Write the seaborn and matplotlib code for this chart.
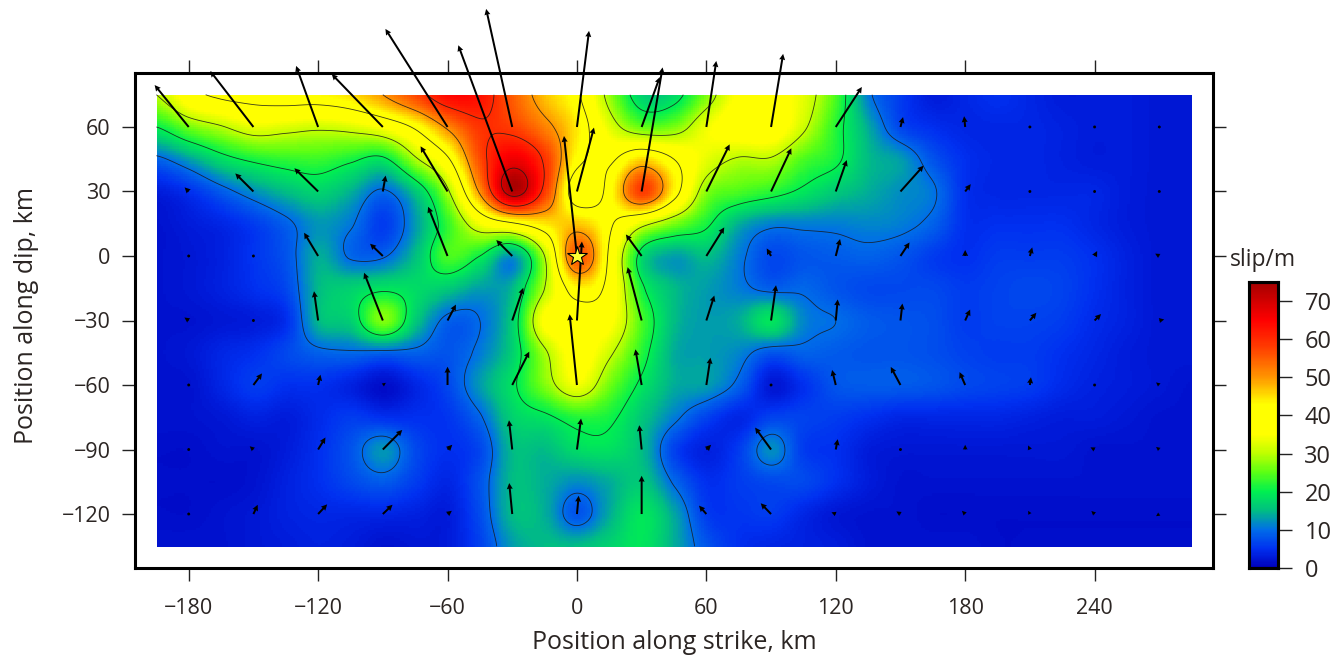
import numpy as np
import matplotlib
matplotlib.use("Agg")
import matplotlib.pyplot as plt
from matplotlib.colors import LinearSegmentedColormap
import seaborn as sns

# slip (m), nodes every 15 km
strike = np.arange(-195, 286, 15)
dip = np.arange(75, -136, -15)
slip_p75 = [30,38,41,42,43,43,45,50,57,64,63,55,47,41,28,17,18,27,36,37,33,24,11,6,3,4,5,4,3,3,3,2.5,2.5]
slip_p60 = [20,26,29.5,33,32,31,32,35,41,51,59,58,52,44,33,26,27,34,38,38,31,22,14,7,5,4,4,4,3.5,3,3,2.5,2.5]
slip_p45 = [9,13,18,21,22.5,23,21,19,29,39,57,67,59,42,39,46,40,33,29.5,29.5,24,21,15,13,8,5,4,4,3.5,3,3,2.5,2.5]
slip_p30 = [3,5,8.5,12,15,17,14,9.5,16,29,51,73,58,36,42,58,43,27,24,22,19,16,14,12,10.5,5,4,4,4,4,3,2.5,2.5]
slip_p15 = [2,3,4,6,9,12.5,10.5,6,13,23,34,39,44,47,41,32,26,21,14,11,11,11,11.5,11,9,5,5,5,5,4,3,2.5,2.5]
slip_00 = [2,2.5,3.5,5.5,8,14,9.5,9.5,15.5,24,20,12.5,30,56,39,18,13,15,11,7,8,8.5,9,8,6,5,6,6,6,5,3.5,2.5,2.5]
slip_m15 = [2,2.5,3.5,5,7,15,17,19,18,16,13,15,30,43,38,21,15,13,11,9,9.5,8,7,7,7,6,6.5,7,6.5,5,3.5,2.5,2.5]
slip_m30 = [2,2,2.5,3,5,15,17,27,16,9,10,17,36,37,36,24,15,13,14,19,11.5,10,8.5,8,7.5,6,6.5,6.5,6,4.5,3.5,2.5,2.5]
slip_m45 = [2,2.5,4,5,7,9,9.5,9,9,8,11,17,29,37,31,22,14,13,11.5,8,9,8.5,8,8,7.5,6.5,6,6,5,4,3,2.5,2.5]
slip_m60 = [2,2,4,6,5,5,3.5,1.5,4,7,13,19,27,34,26,19,14,13,9,2.5,5,8,8.5,8.5,8,7,6.5,6,4.5,3.5,3,2.5,2]
slip_m75 = [2,2,2.5,3.5,3,4.5,6,5,5,5.5,9.5,17,19,22,21,16,11,6.5,4,6.5,6.5,6,5,4,4,4,4,3.5,3,3,2.5,2,2]
slip_m90 = [1.5,1.5,2,2,3,5,8,12.5,7,5,7,15,15,18,18.5,15,6.5,3.5,6,12,6,5,3,2.5,2.5,2.5,2.5,2.5,2.5,2,2,2,2]
slip_m105 = [1.5,1.5,1.5,2,3.5,5,7,8.5,6,4,8,15,14,12,14,16,9.5,5,6,7,7,5,3,2,2,2,2,2,2,2,2,2,2]
slip_m120 = [1.5,1.5,2,2.5,3.5,4,4,4,3.5,3,7.5,15,14,8,14,19,13.5,6,5.5,6,4,2.5,2,2,1.5,1.5,1.5,1.5,1.5,1.5,1.5,1.5,1.5]
slip_m135 = [2,2,2,2.5,3,3.5,3,2,2.5,3,6.5,13,15,15,17,19,14,8,5,4,3.5,3,2,2,2,2,1.5,1.5,1.5,1.5,1.5,1.5,1.5]

# slip vectors at the subfault centres (km on the plot)
arrow_x = np.arange(-180, 271, 30)
arrow_y = [60, 30, 0, -30, -60, -90, -120]
dx_60 = [-15.8,-20,-10.2,-23.7,-28.8,-12.1,5.6,8.4,4.6,5.6,12.1,1.2,-0.5,0,-0.2,0]
dy_60 = [19.5,26,28.4,24.6,45.6,54.9,44.7,23.2,30.7,34,18.6,4.6,5,0.7,0.4,0.4]
dx_30 = [-1.9,-8.4,-11,1.3,-12.5,-25,7.9,9.7,10.8,9.4,5.1,10.7,2.6,-0.6,0.6,-0.3]
dy_30 = [1.9,8.4,10.8,7.4,21,68,29.7,57.7,21.9,20.1,14.6,12,3.4,0.5,0.4,0.4]
dx_0 = [1,0.3,-6.5,-5.9,-9,-7.4,-6,-7.3,8.3,-2,2,4.2,0,1.1,1.2,-1.9]
dy_0 = [0.5,0.3,10.8,5.7,22.9,7.4,55.8,10,13.3,3.5,7.9,6.3,2.8,4,2.3,1.1]
dx_m30 = [-2,0,-1.9,-8.7,3.9,5.1,2.3,-6.5,3.7,2.3,0.9,0.9,2.3,3,3,2.3]
dy_m30 = [1.4,0.8,13.6,22.2,7.4,15.2,36.7,24.8,11.6,16.4,9.8,7.9,5.1,3.6,3,0.5]
dx_m60 = [0.5,4,1.1,1.4,0,7.9,-3.4,-2.9,1.9,-1,-1.7,-4.5,-2.6,0.5,0.5,-1.5]
dy_m60 = [0.5,5.4,4.8,1,8.5,15.5,32.9,16.6,12.7,1,7,8.4,6,3.6,1.3,1.2]
dx_m90 = [1,-1.7,3.4,9,2.2,-1.5,1.9,-1.1,2.2,-7.4,0.9,0.4,0,-0.8,-1.9,-1.5]
dy_m90 = [1,1.5,5.6,9.1,2.2,13.6,14.4,11.3,2.2,10.2,4.8,0.4,2.2,1.9,1,1.2]
dx_m120 = [0.5,2,4.2,4.5,2,-1.4,0.8,0,-3.4,-4.8,-2,-1.9,-1.5,-0.8,-1.5,-1.5]
dy_m120 = [0.5,4.3,4.5,4.3,1.5,14.4,8.5,17.8,3.9,5,0.8,1.2,1.5,1.5,1.4,-1]

color_stops = [(0, "#0000bc"), (5, "#0030f0"), (10, "#006ee8"), (15, "#00be82"), (20, "#00f050"),
               (25, "#5aff14"), (30, "#beff00"), (35, "#ffff00"), (43, "#ffff00"), (50, "#ff9600"),
               (58, "#ff3c00"), (65, "#ff0000"), (75, "#a50000")]
slip_cmap = LinearSegmentedColormap.from_list("slip", [(v / 75, c) for v, c in color_stops])


def cubic_weights(nodes, fine):
    # catmull-rom weights to get from the node spacing to 1 km cells
    w = np.zeros((len(fine), len(nodes)))
    step = nodes[1] - nodes[0]
    for i, f in enumerate(fine):
        t = (f - nodes[0]) / step
        k = int(np.clip(np.floor(t), 0, len(nodes) - 2))
        u = t - k
        coef = [-0.5*u**3 + u**2 - 0.5*u, 1.5*u**3 - 2.5*u**2 + 1,
                -1.5*u**3 + 2*u**2 + 0.5*u, 0.5*u**3 - 0.5*u**2]
        for j, c in zip(range(k - 1, k + 3), coef):
            w[i, np.clip(j, 0, len(nodes) - 1)] += c
    return w


slip = np.array([slip_p75, slip_p60, slip_p45, slip_p30, slip_p15, slip_00, slip_m15, slip_m30,
                 slip_m45, slip_m60, slip_m75, slip_m90, slip_m105, slip_m120, slip_m135])
fine_x = np.arange(-195, 285.5, 1.0)
fine_y = np.arange(75, -135.5, -1.0)
fine = cubic_weights(dip, fine_y) @ slip @ cubic_weights(strike, fine_x).T

sns.set_theme(style="ticks")
plt.rcParams["font.family"] = ["Open Sans", "DejaVu Sans"]
plt.rcParams["text.color"] = "#2b2523"
plt.rcParams["axes.labelcolor"] = "#2b2523"
plt.rcParams["xtick.labelcolor"] = "#2b2523"
plt.rcParams["ytick.labelcolor"] = "#2b2523"

W, H = 1336, 658


def rect(left, top, right, bottom):
    return [left / W, 1 - bottom / H, (right - left) / W, (bottom - top) / H]


fig = plt.figure(figsize=(W / 100, H / 100), dpi=100, facecolor="white")
hm_ax = fig.add_axes(rect(157, 95, 1192, 547))
cax = fig.add_axes(rect(1249, 282, 1278, 568))
ax = fig.add_axes(rect(135, 73, 1213, 568))
ax.patch.set_visible(False)

sns.heatmap(fine, ax=hm_ax, cbar_ax=cax, cmap=slip_cmap, vmin=0, vmax=75, xticklabels=False,
            yticklabels=False, cbar_kws={"ticks": np.arange(0, 71, 10)}, rasterized=True)
hm_ax.set_axis_off()

ax.set_xlim(-204.9, 294.9)
ax.set_ylim(-145.1, 85.1)
ax.contour(fine_x, fine_y, fine, levels=np.arange(10, 71, 10), colors="#1a1a1a", linewidths=0.6, alpha=0.85)

X, Y = np.meshgrid(arrow_x, arrow_y)
U = np.array([dx_60, dx_30, dx_0, dx_m30, dx_m60, dx_m90, dx_m120])
V = np.array([dy_60, dy_30, dy_0, dy_m30, dy_m60, dy_m90, dy_m120])
ax.quiver(X, Y, U, V, angles="xy", scale_units="xy", scale=1, units="dots", width=2.0, headwidth=3,
          headlength=3, headaxislength=2.8, minlength=1.6, color="black", clip_on=False, zorder=5)
ax.plot([0], [0], marker="*", ms=15, mfc="#ffff33", mec="black", mew=0.8, ls="none", zorder=6)

ax.set_xticks(np.arange(-180, 241, 60))
ax.set_yticks(np.arange(-120, 61, 30))
ax.tick_params(axis="both", which="major", length=9.5, width=1, color="#222222", labelsize=15.5,
               top=True, right=True, direction="out")
ax.tick_params(axis="x", pad=12)
ax.tick_params(axis="y", pad=8)
ax.set_xlabel("Position along strike, km", fontsize=18, labelpad=8)
ax.set_ylabel("Position along dip, km", fontsize=18, labelpad=16, y=0.51)
for s in ax.spines.values():
    s.set_linewidth(2.2)
    s.set_color("black")

cax.tick_params(length=10, width=1, color="#222222", labelsize=17, pad=9)
for s in cax.spines.values():
    s.set_visible(True)
    s.set_linewidth(2.2)
    s.set_color("black")
fig.text(1263 / W, 1 - 260 / H, "slip/m", fontsize=16.5, ha="center", va="center")

fig.savefig("out.png", dpi=100)
